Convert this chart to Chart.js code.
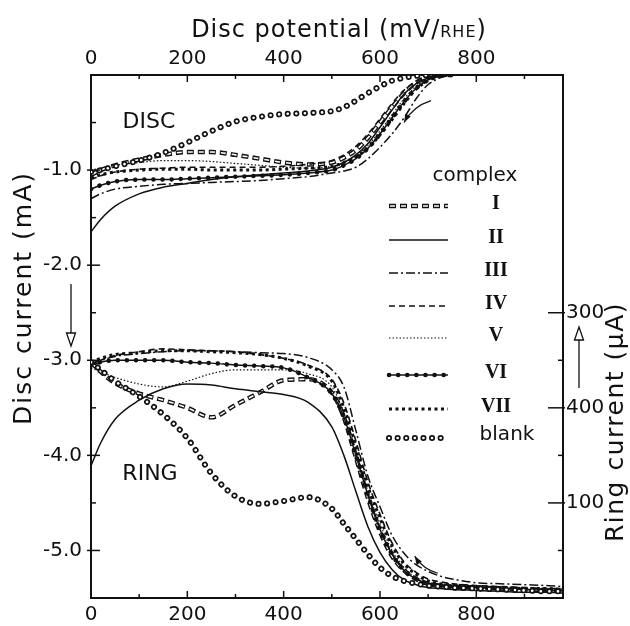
<!DOCTYPE html>
<html>
<head>
<meta charset="utf-8">
<script src="https://cdn.jsdelivr.net/npm/chart.js@4.4.1/dist/chart.umd.min.js"></script>
<style>
  html, body { margin: 0; padding: 0; background: #fff; }
  canvas { display: block; }
</style>
</head>
<body>
<canvas id="grafico" width="630" height="626"></canvas>
<script>
// Potenciais do disco (mV/RHE) em que as curvas foram lidas
const potencial = [0, 20, 50, 100, 150, 200, 250, 300, 350, 400, 450, 500, 525, 550, 575, 600, 625, 650, 675, 700, 725, 750, 800, 850, 900, 950, 980];

// Corrente do disco (mA)
const discoI   = [-1.05, -1.0, -0.95, -0.89, -0.84, -0.81, -0.81, -0.84, -0.88, -0.92, -0.94, -0.92, -0.87, -0.79, -0.66, -0.5, -0.34, -0.19, -0.08, -0.02, 0, 0, null, null, null, null, null];
const discoII  = [-1.65, -1.52, -1.38, -1.25, -1.18, -1.14, -1.1, -1.07, -1.05, -1.03, -1.01, -0.97, -0.92, -0.84, -0.72, -0.55, -0.37, -0.2, -0.09, -0.03, -0.01, 0, null, null, null, null, null];
const discoIII = [-1.3, -1.25, -1.2, -1.17, -1.15, -1.14, -1.13, -1.12, -1.11, -1.09, -1.07, -1.03, -1.01, -0.97, -0.88, -0.76, -0.62, -0.45, -0.25, -0.1, -0.03, 0, null, null, null, null, null];
const discoIV  = [-1.1, -1.06, -1.02, -0.99, -0.98, -0.97, -0.97, -0.97, -0.97, -0.96, -0.94, -0.9, -0.84, -0.75, -0.62, -0.46, -0.3, -0.16, -0.07, -0.02, 0, 0, null, null, null, null, null];
const discoV   = [-1.0, -0.98, -0.95, -0.92, -0.9, -0.9, -0.91, -0.93, -0.95, -0.97, -0.98, -0.96, -0.92, -0.85, -0.74, -0.59, -0.42, -0.25, -0.12, -0.04, -0.01, 0, null, null, null, null, null];
const discoVI  = [-1.2, -1.16, -1.12, -1.1, -1.1, -1.09, -1.08, -1.07, -1.06, -1.05, -1.03, -1.0, -0.95, -0.88, -0.77, -0.62, -0.45, -0.28, -0.14, -0.05, -0.01, 0, null, null, null, null, null];
const discoVII = [-1.08, -1.05, -1.02, -1.0, -0.99, -0.99, -1.0, -1.0, -1.0, -0.99, -0.98, -0.96, -0.92, -0.86, -0.77, -0.63, -0.47, -0.3, -0.15, -0.06, -0.01, 0, null, null, null, null, null];
const discoBranco = [-1.02, -1.0, -0.96, -0.9, -0.82, -0.71, -0.59, -0.49, -0.44, -0.41, -0.4, -0.38, -0.34, -0.27, -0.19, -0.12, -0.06, -0.03, -0.01, 0, null, null, null, null, null, null, null];

// Corrente do anel (µA)
const anelI   = [248, 238, 226, 215, 208, 200, 190, 203, 216, 229, 230, 216, 190, 148, 105, 70, 44, 29, 20, 15, 13, 12, 11, 10, 9, 8, 8];
const anelII  = [139, 163, 188, 208, 220, 225, 224, 220, 217, 214, 206, 180, 150, 112, 75, 48, 30, 19, 14, 11, 10, 9, 8, 7, 6, 6, 5];
const anelIII = [247, 250, 254, 257, 259, 260, 260, 259, 258, 257, 253, 240, 222, 176, 128, 96, 66, 47, 35, 28, 23, 20, 16, 15, 14, 13, 12];
const anelIV  = [245, 250, 255, 259, 262, 261, 260, 259, 256, 252, 245, 230, 205, 165, 122, 88, 58, 38, 27, 20, 17, 15, 13, 12, 11, 10, 10];
const anelV   = [242, 238, 232, 225, 222, 228, 236, 240, 240, 240, 236, 222, 195, 155, 112, 78, 50, 32, 21, 16, 14, 13, 12, 11, 10, 9, 9];
const anelVI  = [245, 248, 250, 250, 250, 248, 247, 245, 244, 242, 232, 215, 190, 150, 108, 72, 46, 29, 20, 15, 13, 12, 11, 10, 9, 8, 8];
const anelVII = [248, 252, 256, 258, 260, 260, 259, 258, 256, 252, 244, 228, 200, 160, 117, 84, 55, 36, 25, 18, 15, 14, 12, 11, 10, 10, 9];
const anelBranco = [248, 240, 228, 212, 193, 168, 131, 107, 99, 102, 106, 94, 78, 62, 46, 32, 23, 18, 15, 13, 12, 11, 10, 9, 8, 7, 7];

// Rótulos dos eixos
const nomesSeries = ['I', 'II', 'III', 'IV', 'V', 'VI', 'VII', 'blank'];
const ticksPotencial = [0, 200, 400, 600, 800];
const ticksDisco = [-1, -2, -3, -4, -5];
const ticksAnel = [100, 200, 300];
const rotulosAnel = ['100', '400', '300'];

const discos = [discoI, discoII, discoIII, discoIV, discoV, discoVI, discoVII, discoBranco];
const aneis = [anelI, anelII, anelIII, anelIV, anelV, anelVI, anelVII, anelBranco];

const FONTE = "'DejaVu Sans', sans-serif";
const SERIFA = "'Liberation Serif', 'DejaVu Serif', serif";
const PRETO = '#111';

// Camadas de traço de cada complexo (a branca por cima faz os símbolos ocos)
const estilos = {
    'I':     [{ w: 4.5, dash: [7, 4] }, { w: 1.6, dash: [5, 6], offset: -1, cor: '#fff' }],
    'II':    [{ w: 1.5, dash: [] }],
    'III':   [{ w: 1.5, dash: [9, 3, 2, 3] }],
    'IV':    [{ w: 1.6, dash: [6, 4] }],
    'V':     [{ w: 1.2, dash: [1.5, 2] }],
    'VI':    [{ w: 1.5, dash: [] }, { w: 4.5, dash: [0.1, 9], cap: 'round' }],
    'VII':   [{ w: 3, dash: [3, 3.5] }],
    'blank': [{ w: 6, dash: [0.1, 8.5], cap: 'round' }, { w: 2.6, dash: [0.1, 8.5], cap: 'round', cor: '#fff' }]
};

function pontos(valores) {
    return potencial.map((p, i) => ({ x: p, y: valores[i] }));
}

// Monta os datasets na ordem em que devem ser desenhados
const datasets = [];
nomesSeries.forEach((nome, s) => {
    [[discos[s], 'y'], [aneis[s], 'y2']].forEach(([valores, eixo]) => {
        estilos[nome].forEach(c => {
            datasets.push({
                label: nome,
                data: pontos(valores),
                yAxisID: eixo,
                borderColor: c.cor || PRETO,
                borderWidth: c.w,
                borderDash: c.dash,
                borderDashOffset: c.offset || 0,
                borderCapStyle: c.cap || 'butt',
                borderJoinStyle: 'round',
                cubicInterpolationMode: 'monotone',
                pointRadius: 0,
                fill: false,
                spanGaps: false
            });
        });
    });
});
datasets.forEach((d, i) => { d.order = datasets.length - i; });

// Setas, títulos, marcas internas e legenda
function seta(ctx, x1, y1, x2, y2, oca) {
    const ang = Math.atan2(y2 - y1, x2 - x1);
    const c = 13, l = 4.5;
    const bx = x2 - c * Math.cos(ang), by = y2 - c * Math.sin(ang);
    ctx.beginPath();
    ctx.moveTo(x1, y1);
    ctx.lineTo(bx, by);
    ctx.stroke();
    ctx.beginPath();
    ctx.moveTo(x2, y2);
    ctx.lineTo(bx + l * Math.sin(ang), by - l * Math.cos(ang));
    ctx.lineTo(bx - l * Math.sin(ang), by + l * Math.cos(ang));
    ctx.closePath();
    if (oca) ctx.stroke(); else ctx.fill();
}

function setaCurva(ctx, p0, pc, p1) {
    ctx.beginPath();
    ctx.moveTo(p0.x, p0.y);
    ctx.quadraticCurveTo(pc.x, pc.y, p1.x, p1.y);
    ctx.stroke();
    const ang = Math.atan2(p1.y - pc.y, p1.x - pc.x);
    ctx.beginPath();
    ctx.moveTo(p1.x, p1.y);
    ctx.lineTo(p1.x - 9 * Math.cos(ang - 0.35), p1.y - 9 * Math.sin(ang - 0.35));
    ctx.lineTo(p1.x - 9 * Math.cos(ang + 0.35), p1.y - 9 * Math.sin(ang + 0.35));
    ctx.closePath();
    ctx.fill();
}

function textoEspacado(ctx, texto, x, y, espaco) {
    ctx.letterSpacing = espaco + 'px';
    ctx.fillText(texto, x, y);
    ctx.letterSpacing = '0px';
}

const anotacoes = {
    id: 'anotacoes',
    afterDraw(chart) {
        const ctx = chart.ctx;
        const { x, y, y2 } = chart.scales;
        const area = chart.chartArea;
        ctx.save();
        ctx.strokeStyle = PRETO;
        ctx.fillStyle = PRETO;
        ctx.lineWidth = 1.5;
        ctx.setLineDash([]);

        // marcas para dentro do quadro
        [100, 200, 300, 400, 500, 600, 700, 800, 900].forEach(v => {
            const px = x.getPixelForValue(v);
            const len = v % 200 === 0 ? 7 : 4;
            ctx.beginPath();
            ctx.moveTo(px, area.bottom); ctx.lineTo(px, area.bottom - len);
            ctx.moveTo(px, area.top); ctx.lineTo(px, area.top + len);
            ctx.stroke();
        });
        [-0.5, -1, -1.5, -2, -2.5, -3, -3.5, -4, -4.5, -5].forEach(v => {
            const py = y.getPixelForValue(v);
            const inteiro = Number.isInteger(v);
            ctx.beginPath();
            ctx.moveTo(area.left - (inteiro ? 4 : 0), py);
            ctx.lineTo(area.left + (inteiro ? 9 : 5), py);
            ctx.stroke();
        });
        [50, 100, 150, 200, 250, 300].forEach(v => {
            const py = y2.getPixelForValue(v);
            const maior = v % 100 === 0;
            ctx.beginPath();
            ctx.moveTo(area.right + (maior ? 2 : 0), py);
            ctx.lineTo(area.right - (maior ? 15 : 5), py);
            ctx.stroke();
        });

        // título superior com RHE em versalete
        ctx.textBaseline = 'alphabetic';
        ctx.textAlign = 'left';
        const partes = [['Disc potential (mV/', 24], ['RHE', 16], [')', 24]];
        ctx.letterSpacing = '1px';
        let largura = 0;
        partes.forEach(([t, s]) => { ctx.font = `${s}px ${FONTE}`; largura += ctx.measureText(t).width; });
        let cx = 339 - largura / 2;
        partes.forEach(([t, s]) => {
            ctx.font = `${s}px ${FONTE}`;
            ctx.fillText(t, cx, 37);
            cx += ctx.measureText(t).width;
        });
        ctx.letterSpacing = '0px';

        // títulos verticais
        ctx.font = `25px ${FONTE}`;
        ctx.textAlign = 'center';
        ctx.textBaseline = 'middle';
        ctx.save();
        ctx.translate(24, 298);
        ctx.rotate(-Math.PI / 2);
        textoEspacado(ctx, 'Disc current (mA)', 0, 0, 2);
        ctx.restore();
        ctx.save();
        ctx.translate(616, 422);
        ctx.rotate(-Math.PI / 2);
        textoEspacado(ctx, 'Ring current (\u00B5A)', 0, 0, 1.5);
        ctx.restore();

        // setas dos eixos
        ctx.lineWidth = 1.3;
        seta(ctx, 71, 284, 71, 346, true);
        seta(ctx, 579, 388, 579, 327, true);

        // setas do sentido de varredura
        ctx.lineWidth = 1.2;
        setaCurva(ctx,
            { x: x.getPixelForValue(706), y: y.getPixelForValue(-0.27) },
            { x: x.getPixelForValue(668), y: y.getPixelForValue(-0.33) },
            { x: x.getPixelForValue(650), y: y.getPixelForValue(-0.5) });
        setaCurva(ctx,
            { x: x.getPixelForValue(720), y: y.getPixelForValue(-5.24) },
            { x: x.getPixelForValue(690), y: y.getPixelForValue(-5.2) },
            { x: x.getPixelForValue(672), y: y.getPixelForValue(-5.06) });

        // rótulos DISC e RING
        ctx.font = `22px ${FONTE}`;
        ctx.fillText('DISC', 149, 122);
        ctx.fillText('RING', 150, 474);

        // legenda
        ctx.font = `20px ${FONTE}`;
        ctx.fillText('complex', 475, 176);
        const linhasLegenda = [206, 240, 273, 306, 338, 375, 409, 438];
        nomesSeries.forEach((nome, i) => {
            const ly = linhasLegenda[i];
            estilos[nome].forEach(c => {
                ctx.save();
                ctx.strokeStyle = c.cor || PRETO;
                ctx.lineWidth = c.w;
                ctx.setLineDash(c.dash);
                ctx.lineDashOffset = c.offset || 0;
                ctx.lineCap = c.cap || 'butt';
                ctx.beginPath();
                ctx.moveTo(389, ly);
                ctx.lineTo(448, ly);
                ctx.stroke();
                ctx.restore();
            });
            if (nome === 'blank') {
                ctx.font = `20px ${FONTE}`;
                ctx.fillText('blank', 507, ly - 3);
            } else {
                ctx.font = `bold 20px ${SERIFA}`;
                ctx.fillText(nome, 496, ly - 2);
            }
        });
        ctx.restore();
    }
};

const fonteTicks = { family: FONTE, size: 20 };
const bordaQuadro = { display: true, color: PRETO, width: 2 };
const semGrade = { display: false, drawTicks: false };

new Chart(document.getElementById('grafico'), {
    type: 'line',
    data: { datasets },
    options: {
        responsive: false,
        animation: false,
        layout: { padding: 0 },
        plugins: { legend: { display: false }, tooltip: { enabled: false } },
        scales: {
            x: {
                type: 'linear', position: 'bottom', min: 0, max: 980,
                afterBuildTicks: s => { s.ticks = ticksPotencial.map(v => ({ value: v })); },
                afterFit: s => { s.height = 28; },
                grid: semGrade, border: bordaQuadro,
                ticks: { padding: 5, color: PRETO, font: fonteTicks, maxRotation: 0, autoSkip: false }
            },
            x2: {
                type: 'linear', position: 'top', min: 0, max: 980,
                afterBuildTicks: s => { s.ticks = ticksPotencial.map(v => ({ value: v })); },
                afterFit: s => { s.height = 75; },
                grid: semGrade, border: bordaQuadro,
                ticks: { padding: 4, color: PRETO, font: fonteTicks, maxRotation: 0, autoSkip: false }
            },
            y: {
                type: 'linear', position: 'left', min: -5.5, max: 0,
                afterBuildTicks: s => { s.ticks = ticksDisco.map(v => ({ value: v })); },
                afterFit: s => { s.width = 91; },
                grid: semGrade, border: bordaQuadro,
                ticks: { padding: 9, color: PRETO, font: fonteTicks, callback: v => v.toFixed(1) }
            },
            y2: {
                type: 'linear', position: 'right', min: 0, max: 550,
                afterBuildTicks: s => { s.ticks = ticksAnel.map(v => ({ value: v })); },
                afterFit: s => { s.width = 67; },
                grid: semGrade, border: bordaQuadro,
                ticks: { padding: 3, color: PRETO, font: fonteTicks, callback: v => rotulosAnel[ticksAnel.indexOf(v)] }
            }
        }
    },
    plugins: [anotacoes]
});
</script>
</body>
</html>
